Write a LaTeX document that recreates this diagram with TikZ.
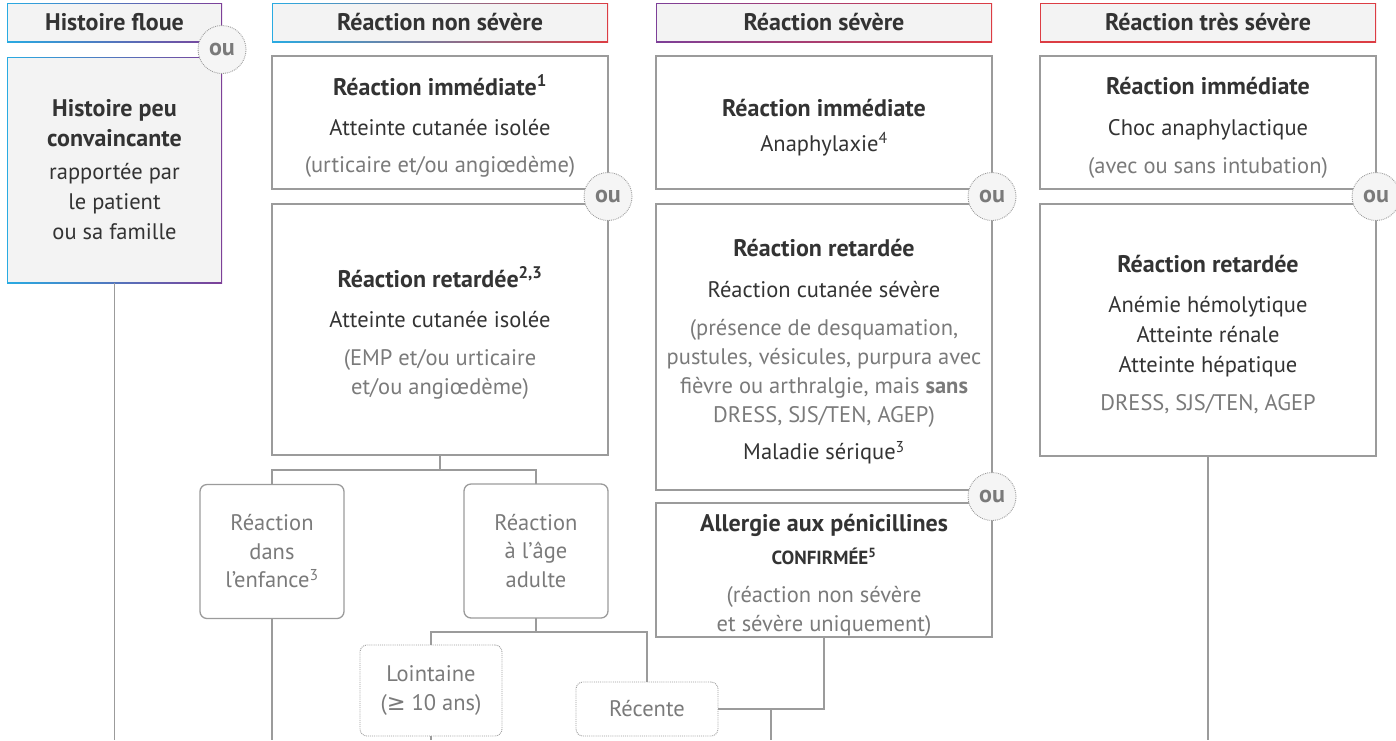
\documentclass[tikz,border=0pt]{standalone}
\usepackage{fontspec}
\setmainfont{PT Sans}
\newfontfamily\symfont{DejaVu Sans}
\usetikzlibrary{positioning,calc}
\definecolor{cyanb}{HTML}{29ABE2}
\definecolor{violetb}{HTML}{7D3F98}
\definecolor{rougeb}{HTML}{DC3D44}
\definecolor{fond}{HTML}{F3F3F3}
\definecolor{trait}{HTML}{9B9B9B}
\definecolor{texte}{HTML}{333333}
\definecolor{gris}{HTML}{7A7A7A}
\newcommand{\titre}[1]{{\fontsize{24}{29}\selectfont\bfseries #1}}
\newcommand{\tete}[1]{\rule{0pt}{27pt}\titre{#1}}

\begin{document}
\begin{tikzpicture}[x=1pt, y=-1pt,
  hdr/.style={rectangle, inner sep=0, outer sep=0, minimum width=336, minimum height=39, align=center, text=texte, font=\fontsize{24}{29}\selectfont\bfseries,
    path picture={\shade[#1] (path picture bounding box.south west) rectangle (path picture bounding box.north east);
      \fill[fond] ([shift={(1.4pt,1.4pt)}]path picture bounding box.south west) rectangle ([shift={(-1.4pt,-1.4pt)}]path picture bounding box.north east);}},
  main/.style={draw=trait, line width=1.3pt, rectangle, inner sep=0, outer sep=0, minimum width=336, align=center, text=texte, font=\fontsize{22.5}{29}\selectfont},
  soft/.style={draw=trait, line width=1.3pt, rounded corners=7pt, inner sep=0, outer sep=0, minimum width=144, minimum height=134, align=center, text=gris, font=\fontsize{22.5}{28.5}\selectfont},
  dots/.style={soft, line width=0.9pt, densely dotted, minimum width=142},
  ou/.style={circle, draw=trait, line width=0.9pt, densely dotted, fill=fond!85!trait!40, inner sep=0, minimum size=48, text=gris, font=\fontsize{24}{29}\selectfont\bfseries},
  lien/.style={draw=trait, line width=1.3pt}]
\useasboundingbox (0,0) rectangle (1396,740);
\coordinate (bas) at (0,740);

\node[hdr={left color=cyanb, right color=violetb}, minimum width=215] (1) at (114.5,22.5) {Histoire floue};
\node[hdr={left color=cyanb, right color=violetb}, minimum width=215, minimum height=226, font=\fontsize{22.5}{30}\selectfont] (2) [below=15pt of 1] {\titre{Histoire peu}\\\titre{convaincante}\\[3pt] rapportée par\\le patient\\ou sa famille};

\node[hdr={left color=cyanb, middle color=violetb, right color=rougeb}] (3) [right=50pt of 1] {Réaction non sévère};
\node[main, minimum height=133] (4) [below=14pt of 3] {\tete{Réaction immédiate\textsuperscript{1}}\\[11pt] Atteinte cutanée isolée\\[8pt] \textcolor{gris}{(urticaire et/ou angiœdème)}};
\node[main, minimum height=251] (5) [below=15pt of 4] {\tete{Réaction retardée\textsuperscript{2,3}}\\[11pt] Atteinte cutanée isolée\\[9pt] \textcolor{gris}{(EMP et/ou urticaire}\\ \textcolor{gris}{et/ou angiœdème)}};
\node[soft] (6) at (272,551.5) {Réaction\\dans\\l’enfance\textsuperscript{3}};
\node[soft] (7) at (536,551) {Réaction\\à l’âge\\adulte};
\node[dots, minimum height=91] (8) at (431,690.5) {Lointaine\\(\symfont ≥\normalfont{} 10 ans)};
\node[dots, minimum height=54] (9) at (647,709) {Récente};

\node[hdr={left color=violetb, right color=rougeb}] (10) [right=48pt of 3] {Réaction sévère};
\node[main, minimum height=133] (11) [below=14pt of 10] {\tete{Réaction immédiate}\\[6pt] Anaphylaxie\textsuperscript{4}};
\node[main, minimum height=286] (12) [below=15pt of 11] {\tete{Réaction retardée}\\[12pt] Réaction cutanée sévère\\[9pt] \textcolor{gris}{(présence de desquamation,}\\ \textcolor{gris}{pustules, vésicules, purpura avec}\\ \textcolor{gris}{fièvre ou arthralgie, mais \textbf{sans}}\\ \textcolor{gris}{DRESS, SJS/TEN, AGEP)}\\[8pt] Maladie sérique\textsuperscript{3}};
\node[main, minimum height=134] (13) [below=13pt of 12] {\tete{Allergie aux pénicillines}\\[4pt] \textbf{\fontsize{19}{22}\selectfont CONFIRMÉE\textsuperscript{5}}\\[9pt] \textcolor{gris}{(réaction non sévère}\\ \textcolor{gris}{et sévère uniquement)}};

\node[hdr={left color=rougeb, right color=rougeb}] (14) [right=48pt of 10] {Réaction très sévère};
\node[main, minimum height=133] (15) [below=14pt of 14] {\tete{Réaction immédiate}\\[12pt] Choc anaphylactique\\[9pt] \textcolor{gris}{(avec ou sans intubation)}};
\node[main, minimum height=252] (16) [below=15pt of 15] {\tete{Réaction retardée}\\[11pt] Anémie hémolytique\\[1pt] Atteinte rénale\\[1pt] Atteinte hépatique\\[9pt] \textcolor{gris}{DRESS, SJS/TEN, AGEP}};

\draw[lien] (2.south) -- (2.south |- bas);
\draw[lien] (5.south) -- ++(0,15) -| (6.north);
\draw[lien] (5.south) -- ++(0,15) -| (7.north);
\draw[lien] (6.south) -- (6.south |- bas);
\draw[lien] (7.south) -- ++(0,14) -| (8.north);
\draw[lien] (7.south) -- ++(0,14) -| (9.north);
\draw[lien] (8.south) -- (8.south |- bas);
\draw[lien] (13.south) |- (9.east) coordinate[pos=0.75] (j);
\draw[lien] (j) -- (j |- bas);
\draw[lien] (16.south) -- (16.south |- bas);

\node[ou] (17) at ($(1.south east)!0.5!(2.north east)$) {ou};
\node[ou] (18) at ($(4.south east)!0.5!(5.north east)$) {ou};
\node[ou] (19) at ($(11.south east)!0.5!(12.north east)$) {ou};
\node[ou] (20) at ($(12.south east)!0.5!(13.north east)$) {ou};
\node[ou] (21) at ($(15.south east)!0.5!(16.north east)$) {ou};
\end{tikzpicture}
\end{document}
